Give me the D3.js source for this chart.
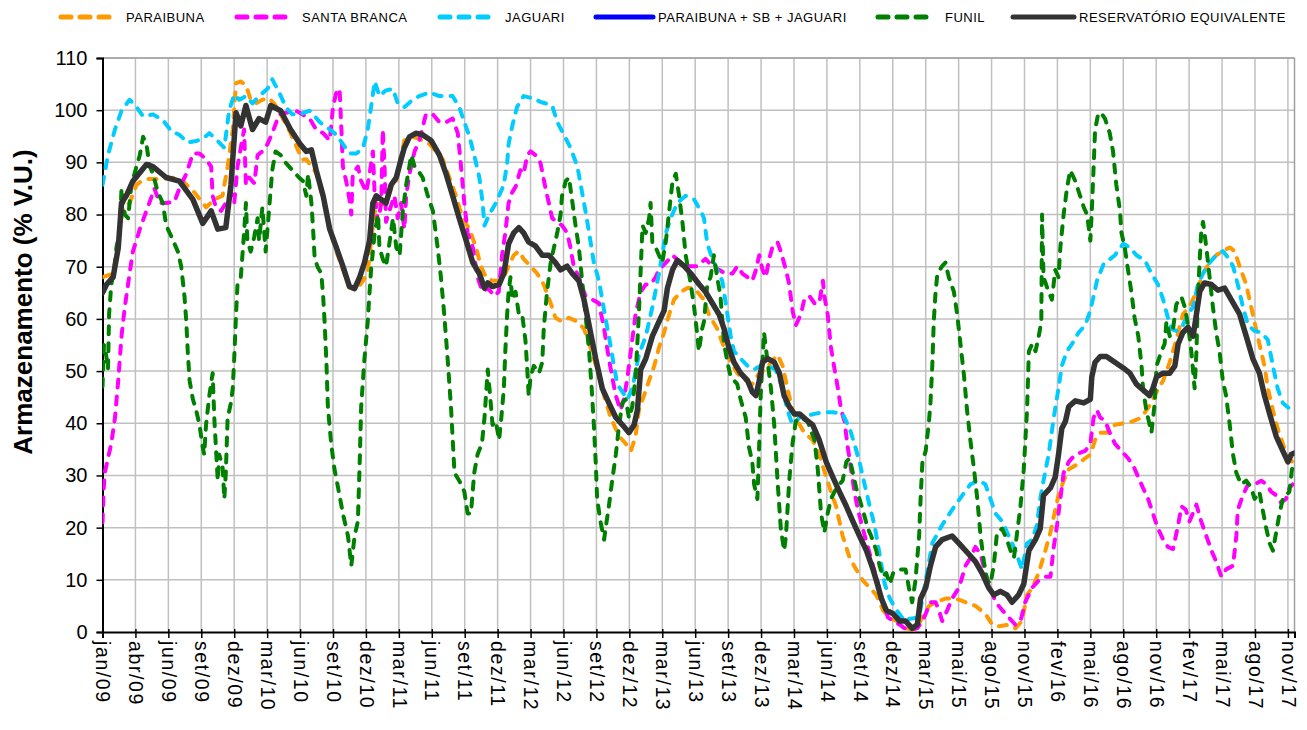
<!DOCTYPE html>
<html><head><meta charset="utf-8">
<script src="https://cdn.jsdelivr.net/npm/d3@7"></script>
<style>
html,body{margin:0;padding:0;background:#fff;}
svg text{font-family:"Liberation Sans",Arial,sans-serif;}
</style></head>
<body><svg id="c" width="1307" height="730"></svg>
<script>
// ---- DATA (x = day index from 01/jan/2009, y = % V.U.) ----
const xTickLabels = ["jan/09","abr/09","jun/09","set/09","dez/09","mar/10","jun/10","set/10","dez/10","mar/11","jun/11","set/11","dez/11","mar/12","jun/12","set/12","dez/12","mar/13","jun/13","set/13","dez/13","mar/14","jun/14","set/14","dez/14","mar/15","mai/15","ago/15","nov/15","fev/16","mai/16","ago/16","nov/16","fev/17","mai/17","ago/17","nov/17"];
const xTickDays = [0,90,180,270,360,450,540,630,720,810,900,990,1080,1170,1260,1350,1440,1530,1620,1710,1800,1890,1980,2070,2160,2250,2340,2430,2520,2610,2700,2790,2880,2970,3060,3150,3240];
const xLastDay = 3258;
const yTicks = [0,10,20,30,40,50,60,70,80,90,100,110];

const paraibuna = [[0,68],[29,68.7],[43,75],[56,81.4],[74,82.2],[93,85.7],[106,86.4],[124,86.8],[156,86.8],[201,87.1],[219,86.4],[247,84.6],[274,82.2],[283,81.4],[306,82.9],[328,83.6],[342,89.2],[356,96.3],[365,105.2],[378,105.5],[392,104.8],[405,102],[419,101.3],[437,102],[455,102.3],[469,101.3],[487,99.2],[514,95.6],[546,90.5],[557,90.6],[584,88],[603,83],[621,77],[639,73],[657,69.5],[675,66],[694,65.6],[712,67.3],[725,69],[739,78],[748,82],[762,82],[775,82],[789,85],[803,86.5],[825,94.2],[848,94.9],[866,94.5],[894,93.5],[930,90.6],[966,83.6],[984,79.3],[1003,77.2],[1021,73.7],[1034,70.1],[1048,68],[1066,67.3],[1084,67.3],[1097,68],[1110,70.1],[1124,72.2],[1138,73],[1151,71.5],[1170,70.1],[1188,68.7],[1206,66.6],[1225,63],[1238,60.2],[1256,59.5],[1275,60.2],[1298,59.5],[1316,58.1],[1334,54.5],[1352,50.3],[1371,45.3],[1389,41.1],[1412,37.5],[1430,36.1],[1444,34.7],[1457,37.5],[1466,42.5],[1480,45.3],[1494,48.2],[1508,51],[1521,54.5],[1535,57.4],[1549,60.9],[1562,63.7],[1581,65.2],[1599,65.9],[1617,65.9],[1635,64.4],[1644,63.7],[1657,60.9],[1680,58.1],[1699,54.5],[1717,51.7],[1735,49.6],[1758,48.2],[1776,47.5],[1795,49.6],[1813,50.3],[1827,51.7],[1845,53.1],[1859,51],[1872,46.7],[1886,42.5],[1900,40.4],[1918,38.2],[1941,36.8],[1959,34],[1978,29.7],[1991,26.9],[2005,24.1],[2023,18.4],[2042,14.2],[2060,12],[2078,9.9],[2097,8.5],[2115,7.1],[2133,4.2],[2152,2.8],[2170,2.1],[2193,1.1],[2195,0.7],[2222,0.4],[2241,2.8],[2259,5],[2277,5.7],[2304,6.4],[2332,6.4],[2359,5.7],[2386,5],[2413,3.5],[2432,1.4],[2450,1.1],[2477,1.4],[2495,0.7],[2513,2.1],[2527,7.1],[2541,8.5],[2559,11.3],[2568,13.5],[2577,15.6],[2591,19.1],[2604,23.4],[2613,26.2],[2627,29],[2641,31.2],[2659,31.9],[2686,33.3],[2700,34],[2713,36.8],[2727,38.2],[2744,38.2],[2767,39.7],[2790,40],[2817,40.4],[2840,41.1],[2853,42.5],[2867,43.9],[2881,46],[2899,48.2],[2917,51.7],[2935,56],[2953,60.9],[2971,62.3],[2990,65.2],[3008,68.7],[3026,70.8],[3044,72.2],[3062,73],[3081,73.7],[3094,73],[3108,70.1],[3126,66.6],[3144,60.9],[3162,55.2],[3176,51],[3185,46.7],[3199,42.5],[3212,39],[3226,36.1],[3240,33.3],[3253,32.6]];

const santaBranca = [[0,21],[3,27],[6,30.5],[24,36.1],[34,41],[43,48.2],[52,56.7],[61,62.3],[74,68.7],[83,72.9],[102,77.2],[120,80.7],[133,83.2],[142,85],[156,82.2],[174,82.2],[197,82.5],[210,85],[229,87.8],[247,91.7],[265,91.7],[283,90.6],[297,89.2],[301,83.6],[310,81.4],[324,80.7],[337,82.2],[351,84.3],[360,82.2],[369,89.2],[378,92.8],[387,96.3],[392,85.7],[401,87.1],[415,86],[424,91.4],[437,92.1],[451,93.5],[464,95.6],[483,99.2],[501,99.5],[528,99.9],[539,99.5],[566,98.4],[584,96.3],[603,95.6],[621,94.2],[630,100.6],[639,103.4],[648,104.1],[653,96.3],[657,89.2],[666,86.4],[675,82.9],[680,80],[684,87.8],[698,89.2],[707,86.4],[721,84.3],[730,87.8],[739,92.1],[744,83.6],[753,78.6],[762,82.2],[766,96.3],[771,89.2],[775,78.6],[784,80.7],[798,83.6],[807,79.3],[816,82.2],[825,77.2],[830,83.6],[839,87.8],[853,92.1],[866,94.2],[884,99.2],[903,99.2],[921,97.7],[939,97.7],[957,98.4],[971,95.6],[980,89.2],[989,82.2],[998,76.5],[1012,73.7],[1025,68],[1039,65.2],[1053,65.9],[1071,64.4],[1083,65.2],[1092,72.2],[1101,76.5],[1110,82.2],[1120,84.3],[1129,85.3],[1142,88.5],[1151,87.8],[1161,91.4],[1170,92.1],[1183,91.4],[1197,89.9],[1211,85],[1220,82.2],[1229,79.3],[1243,78.6],[1256,77.9],[1270,76.5],[1279,73.7],[1288,70.1],[1302,68],[1320,64.4],[1339,63.7],[1357,63],[1371,58.1],[1384,52.4],[1393,48.9],[1403,45.3],[1416,42.5],[1425,44.6],[1435,48.9],[1444,53.8],[1457,60.9],[1471,65.2],[1485,66.6],[1498,66.6],[1512,68],[1521,69.4],[1540,70.8],[1558,72.2],[1581,70.8],[1603,70.1],[1626,70.1],[1648,71.5],[1667,70.1],[1685,69.4],[1703,68.7],[1722,68.7],[1735,70.1],[1749,68.7],[1763,68],[1776,67.3],[1786,69.4],[1795,72.2],[1804,69.4],[1813,68],[1822,71.5],[1831,73.7],[1845,74.7],[1854,72.9],[1868,69.4],[1877,66.6],[1886,61.6],[1895,58.8],[1909,60.9],[1918,63.7],[1932,64.4],[1946,63],[1959,63],[1969,67.3],[1973,64.4],[1982,60.9],[1991,54.5],[2001,50.3],[2010,46.7],[2019,42.5],[2028,40.4],[2037,35.4],[2046,31.2],[2055,26.9],[2065,23.4],[2078,19.8],[2092,16.3],[2106,12.7],[2120,9.2],[2133,5.7],[2147,2.8],[2161,2.1],[2179,1.4],[2193,0.7],[2204,0.4],[2227,0.7],[2241,2.1],[2250,3.5],[2263,5.7],[2277,5.7],[2286,4.2],[2295,2.1],[2309,4.2],[2322,6.4],[2341,8.5],[2359,12.7],[2372,14.2],[2386,16.3],[2400,14.9],[2413,11.3],[2427,8.5],[2441,5.7],[2459,4.2],[2477,2.8],[2495,1.4],[2509,2.1],[2522,5.7],[2541,8.5],[2559,9.9],[2577,10.6],[2591,10.6],[2600,16.3],[2609,20.5],[2618,25.5],[2627,30.5],[2641,32.6],[2659,34],[2686,34.7],[2700,36.1],[2709,41.1],[2718,42.5],[2727,41.1],[2740,40.5],[2753,38.2],[2767,36.1],[2785,34.7],[2803,33.3],[2817,31.9],[2831,29.7],[2844,27.6],[2858,25.5],[2871,22.7],[2885,19.8],[2899,17.7],[2912,16.3],[2926,15.9],[2940,20.5],[2949,24.1],[2961,23.4],[2971,21.2],[2990,24.4],[3003,21.2],[3017,18.4],[3031,15.6],[3044,13.5],[3058,10.6],[3071,12],[3090,12.7],[3099,18.4],[3103,23.4],[3117,26.2],[3131,28.3],[3149,28.3],[3167,29],[3181,28.3],[3194,26.9],[3208,26.2],[3221,24.8],[3235,25.5],[3244,27.6],[3253,28.3]];

const jaguari = [[0,85.7],[15,91.4],[34,96.3],[52,99.9],[74,102],[93,100.6],[111,98.8],[138,99.2],[165,98.1],[188,96],[210,95.3],[233,93.8],[256,94.1],[274,94.5],[292,95.6],[315,94.1],[333,92.8],[346,99.9],[360,103],[374,102],[392,102.7],[410,101.3],[428,102.7],[451,104.1],[464,105.9],[483,103.4],[501,100.6],[519,99.2],[539,99.2],[566,99.9],[594,97.7],[621,96.3],[639,95.3],[657,93.5],[675,91.7],[694,91.7],[712,92.8],[725,96.3],[734,100.6],[744,105.5],[757,102.7],[775,103.8],[794,104.1],[807,101.3],[825,100.6],[848,102],[866,102.7],[894,103.4],[921,102.7],[957,102.7],[975,100.6],[989,97.7],[1003,94.9],[1016,91.4],[1030,87.1],[1039,82.2],[1044,77.9],[1057,80],[1075,82.2],[1097,85.7],[1106,89.9],[1110,93.5],[1120,97],[1133,100.6],[1151,102.7],[1174,102.3],[1197,101.6],[1229,100.9],[1243,97.7],[1261,95.3],[1279,92.8],[1298,89.2],[1307,85.7],[1320,80.7],[1330,76.5],[1343,70.8],[1357,67.3],[1371,61.6],[1384,56.7],[1398,51],[1407,47.5],[1421,46],[1435,44.6],[1448,46.7],[1466,53.1],[1485,56.7],[1503,62.3],[1521,68.7],[1540,76.5],[1553,79.3],[1571,82.2],[1594,83.6],[1617,82.9],[1635,80.7],[1644,79.3],[1653,74.4],[1667,71.5],[1680,69.4],[1694,67.3],[1708,60.9],[1717,56.7],[1726,53.8],[1744,52.4],[1763,51],[1781,50.3],[1799,51],[1818,51],[1840,50.3],[1859,46.7],[1872,42.5],[1886,39.7],[1905,41.1],[1923,41.4],[1946,41.8],[1969,42.1],[1996,42.1],[2023,41.8],[2042,39],[2055,36.1],[2069,32.6],[2083,28.3],[2097,24.1],[2110,20.5],[2124,14.9],[2138,9.2],[2152,6.4],[2170,4.2],[2193,2.1],[2204,2.5],[2232,2.8],[2250,9.9],[2268,17],[2295,20.5],[2322,23.4],[2350,26.2],[2372,28.3],[2395,29],[2413,28.3],[2427,25.5],[2441,22.7],[2459,21.2],[2477,18.4],[2495,15.6],[2513,12],[2527,17],[2541,17.7],[2554,20.5],[2563,25.5],[2572,29],[2586,34],[2600,41.1],[2613,46.7],[2622,51],[2636,53.8],[2650,55.2],[2668,57.4],[2686,58.8],[2700,61.6],[2709,64.4],[2718,67.3],[2736,70.5],[2767,72.2],[2790,74.4],[2808,73.7],[2826,72.2],[2849,71.2],[2867,68.7],[2885,66.6],[2899,63.7],[2912,60.2],[2921,58.1],[2935,57.7],[2953,58.8],[2967,60.9],[2981,62.3],[2994,66.6],[3008,68.7],[3026,70.8],[3044,72.2],[3062,73],[3076,71.8],[3090,70.1],[3103,66.6],[3117,62.3],[3131,58.8],[3149,57.7],[3167,57.4],[3185,56],[3199,51],[3212,46.7],[3226,43.9],[3244,42.8],[3258,42.8]];

const funil = [[0,47],[4,55],[10,53],[15,50.3],[18,60.9],[24,66.6],[34,70.1],[38,73.7],[47,76.5],[52,85],[61,80],[70,79.3],[79,85.7],[93,89.2],[102,91.4],[111,94.9],[120,93.5],[129,89.2],[138,87.8],[151,84.3],[165,82.2],[174,77.9],[188,75.8],[206,72.9],[215,70.1],[224,64.4],[229,59.5],[233,53.8],[238,48.2],[247,44.6],[256,42.5],[265,39.7],[274,35.4],[278,34],[283,39.7],[292,45.3],[301,49.6],[306,40.4],[310,35.4],[315,29],[319,34],[328,31.9],[333,25.5],[337,30.5],[342,41],[351,43.9],[356,46.7],[360,52.4],[365,60.9],[369,66.6],[378,68],[387,76.5],[392,82.2],[396,75],[405,72.9],[415,75.8],[424,79.3],[428,75],[437,81.4],[446,72.9],[455,80.7],[464,88.5],[473,92.1],[487,91.4],[501,89.9],[519,88.5],[537,87.1],[548,86.4],[557,83.6],[562,87.8],[571,82.2],[575,77.9],[580,71.5],[589,69.8],[598,68.7],[603,64.4],[607,59.5],[612,51.7],[616,43.2],[625,36.1],[634,31.2],[644,27.6],[657,22.7],[671,18.4],[680,12.7],[689,18.4],[698,21.2],[703,32.6],[707,43.2],[716,52.4],[725,59.5],[730,65.2],[734,69.4],[744,76.5],[753,80],[757,73.7],[766,71.5],[775,70.1],[784,74.4],[794,79.3],[803,73.7],[812,72.2],[821,80.7],[830,85.7],[844,91.4],[853,89.2],[862,88.5],[875,87.1],[889,83.6],[903,80.7],[916,73.7],[925,68],[934,60.9],[944,51.7],[953,42.5],[962,30.5],[975,29],[989,26.9],[998,22.7],[1007,22.7],[1016,30.5],[1025,34],[1037,36.1],[1044,41],[1053,50.3],[1062,43.2],[1066,39.7],[1075,40.4],[1084,36.8],[1090,41],[1097,46.7],[1101,53.8],[1106,60.9],[1110,65.2],[1115,68],[1120,63.7],[1129,65.2],[1138,60.9],[1147,60.9],[1156,55.9],[1161,50.3],[1165,45.3],[1170,48.9],[1179,51],[1193,49.6],[1202,51.7],[1206,58.1],[1215,65.2],[1225,70.8],[1234,73.7],[1243,76.5],[1252,80],[1256,83.6],[1266,86.4],[1275,87.1],[1284,82.5],[1293,77.9],[1302,73.7],[1311,67.3],[1320,60.9],[1330,53.8],[1337,46.7],[1343,39.7],[1348,32.6],[1352,25.5],[1361,21.2],[1371,17.7],[1375,19.8],[1384,24.1],[1393,29],[1403,34],[1412,39.7],[1421,43.9],[1430,44.6],[1439,41],[1448,43.2],[1457,48.9],[1466,60.9],[1471,69.4],[1476,77.9],[1485,76.5],[1494,79.3],[1498,82.2],[1503,74.4],[1512,73.7],[1521,72.2],[1530,70.8],[1540,75],[1549,80.7],[1558,86.4],[1567,87.8],[1576,83.6],[1585,78.6],[1594,72.2],[1608,66.6],[1617,62.3],[1626,56.7],[1630,53.8],[1639,58.1],[1644,59.5],[1653,66.6],[1662,68],[1671,72.2],[1680,68],[1689,64.4],[1699,55.2],[1708,51.7],[1717,48.9],[1726,48.2],[1735,47.5],[1744,44.6],[1758,41.1],[1767,35.4],[1776,32.6],[1781,28.3],[1790,25.5],[1795,36.1],[1799,45.3],[1808,57.4],[1818,51.7],[1827,46.7],[1836,39.7],[1845,29],[1854,19.8],[1863,15.6],[1868,18.4],[1877,29],[1886,36.1],[1895,40.4],[1909,41.1],[1927,40.4],[1946,36.8],[1955,31.2],[1964,22.7],[1973,19.1],[1982,22.7],[1991,25.5],[2001,26.9],[2014,28.3],[2023,29],[2033,32.6],[2042,33.3],[2051,30.5],[2060,27.6],[2069,25.5],[2078,23.4],[2092,19.8],[2101,18.4],[2115,15.6],[2124,12.7],[2133,10.6],[2142,11.3],[2152,9.2],[2161,11.3],[2179,12],[2195,12],[2204,8.5],[2213,5.7],[2222,9.9],[2232,18.4],[2236,25.5],[2241,32.6],[2250,34.7],[2259,40.4],[2263,43.9],[2268,51],[2272,59.5],[2277,65.2],[2282,68.7],[2295,70.1],[2304,70.8],[2313,68],[2327,65.2],[2336,60.9],[2345,55.2],[2354,49.6],[2363,42.5],[2372,36.8],[2382,31.2],[2391,25.5],[2400,18.4],[2409,13.5],[2418,9.9],[2427,9.2],[2436,12.7],[2445,19.1],[2459,19.8],[2472,17.7],[2482,15.6],[2491,14.2],[2500,19.1],[2509,24.1],[2518,31.2],[2527,42.5],[2532,53.8],[2541,55.2],[2550,53.8],[2559,56.7],[2566,59.5],[2568,80],[2572,68],[2586,65.2],[2595,63.7],[2604,69.4],[2613,68],[2618,73.7],[2627,80],[2636,85],[2645,88.5],[2659,86.4],[2672,83.6],[2682,81.4],[2691,80],[2700,75],[2704,80.7],[2709,89.2],[2713,96.3],[2722,99.5],[2732,99.2],[2740,98.4],[2753,95.6],[2762,92.1],[2771,85.7],[2781,80.7],[2785,76.5],[2794,73.7],[2803,69.4],[2812,65.2],[2821,60.2],[2831,56.7],[2840,51],[2844,46.7],[2853,42.5],[2862,39.7],[2867,38.2],[2876,43.9],[2881,51],[2894,53.8],[2903,55.2],[2908,59.5],[2917,56.7],[2926,58.1],[2935,62.8],[2949,64.2],[2958,62.3],[2967,58.8],[2976,53.8],[2985,46.7],[2990,53.8],[2994,64.2],[2999,71.5],[3003,76.5],[3008,78.6],[3017,73.7],[3026,68],[3035,62.3],[3044,57.4],[3053,53.8],[3062,48.2],[3071,45.3],[3081,39.7],[3090,34],[3099,30.5],[3112,28.3],[3126,29],[3140,27.6],[3149,25.5],[3162,26.9],[3171,23.4],[3181,19.8],[3190,17],[3199,15.6],[3208,19.1],[3217,22.7],[3226,25.5],[3235,26.2],[3244,26.9],[3251,31.2],[3258,31.9]];

const equivalente = [[0,65],[11,66.6],[29,68],[43,73.6],[52,82.2],[65,83.6],[83,86.4],[120,89.6],[138,89.2],[174,87.1],[210,86.4],[247,82.9],[274,78.3],[297,80.7],[315,77.2],[337,77.5],[351,85.7],[365,99.5],[378,97],[392,100.9],[410,96.3],[428,98.4],[446,97.7],[460,100.9],[487,99.9],[514,96.3],[540,93.5],[557,92.1],[571,92.4],[584,88.5],[603,83.6],[621,77.2],[639,73.7],[657,70.1],[675,66.2],[689,65.8],[703,68],[716,70.8],[730,75],[739,82.2],[748,83.6],[762,82.9],[775,82.2],[789,85.7],[803,87.1],[816,90.6],[825,92.8],[839,94.9],[857,95.6],[875,95.3],[898,94.2],[921,91.4],[939,87.8],[957,83.6],[975,79.3],[994,75],[1012,70.8],[1030,68.7],[1044,65.9],[1053,66.9],[1066,66.2],[1084,66.6],[1097,68.7],[1110,74.4],[1124,76.5],[1138,77.5],[1151,76.5],[1165,74.7],[1183,74],[1202,72.2],[1220,72.2],[1238,70.8],[1252,69.4],[1270,70.1],[1284,68.7],[1302,67.3],[1316,63.7],[1330,58.8],[1348,52.4],[1366,46.7],[1384,43.9],[1403,41.1],[1421,39.7],[1439,38.2],[1453,39.7],[1462,42.5],[1471,50.3],[1485,52.4],[1503,56.7],[1521,59.5],[1535,61.6],[1544,65.9],[1558,69.4],[1571,71.2],[1590,70.1],[1608,68.7],[1631,66.6],[1648,65.2],[1667,63],[1685,60.9],[1699,58.1],[1712,54.5],[1726,51.7],[1744,49.6],[1763,48.2],[1776,46],[1786,45.3],[1795,48.2],[1804,51.7],[1818,52.4],[1836,51.7],[1850,49.6],[1863,45.3],[1877,43.2],[1891,41.8],[1905,41.8],[1923,40.7],[1941,39.7],[1959,36.8],[1978,32.6],[1996,29.7],[2014,26.9],[2033,24.1],[2051,21.2],[2069,18.4],[2088,15.6],[2106,12],[2115,9.9],[2129,6.4],[2142,4.2],[2161,3.5],[2179,2.1],[2195,2.1],[2213,0.7],[2227,1.4],[2236,6.4],[2250,8.5],[2263,12.7],[2277,16.3],[2295,17.7],[2322,18.4],[2341,17],[2368,14.9],[2386,13.5],[2404,11.3],[2422,8.5],[2436,7.1],[2454,7.8],[2472,7.1],[2486,5.7],[2504,7.1],[2518,9.2],[2532,15.6],[2550,17.7],[2563,19.8],[2572,26.2],[2591,27.6],[2604,29.7],[2613,34],[2622,39],[2632,40.4],[2641,43.2],[2659,44.3],[2682,43.9],[2700,44.6],[2704,48.9],[2713,51.7],[2727,52.8],[2744,52.8],[2767,51.7],[2790,50.6],[2808,49.6],[2826,47.5],[2844,46.4],[2862,45.3],[2871,46.7],[2881,48.9],[2899,49.6],[2917,49.6],[2931,51],[2940,55.2],[2953,57.4],[2967,58.4],[2981,56.7],[2990,60.9],[2999,65.2],[3012,66.9],[3031,66.6],[3049,65.5],[3067,65.9],[3085,63.7],[3108,60.9],[3126,56.7],[3144,52.4],[3162,49.6],[3176,45.3],[3190,41.8],[3208,37.5],[3226,34.7],[3240,32.6],[3249,34],[3258,34.3]];

const seriesNames = ["PARAIBUNA","SANTA BRANCA","JAGUARI","PARAIBUNA + SB + JAGUARI","FUNIL","RESERVATÓRIO EQUIVALENTE"];

// ---- CHART ----
const svg = d3.select("#c");
const L = 102.5, R = 1294.5, T = 58, B = 632;
const x = d3.scaleLinear().domain([0, xLastDay]).range([L, R]);
const y = d3.scaleLinear().domain([0, 110]).range([B, T]);

// gridlines
const grid = svg.append("g");
grid.selectAll("line.h").data(yTicks.filter(v => v > 0)).join("line")
  .attr("x1", L).attr("x2", R).attr("y1", d => y(d)).attr("y2", d => y(d))
  .attr("stroke", "#c0c0c0").attr("stroke-width", 1.5);
grid.selectAll("line.v").data(xTickDays.slice(1)).join("line")
  .attr("x1", d => x(d)).attr("x2", d => x(d)).attr("y1", T).attr("y2", B)
  .attr("stroke", "#c0c0c0").attr("stroke-width", 1.5);
svg.append("line").attr("x1", L).attr("x2", R).attr("y1", T).attr("y2", T).attr("stroke", "#a0a0a0").attr("stroke-width", 1.5);
svg.append("line").attr("x1", R).attr("x2", R).attr("y1", T).attr("y2", B).attr("stroke", "#a0a0a0").attr("stroke-width", 1.5);

// axes
const yAxis = d3.axisLeft(y).tickValues(yTicks).tickSize(6).tickPadding(9).tickFormat(d3.format("d"));
const gy = svg.append("g").attr("transform", `translate(${L},0)`).call(yAxis);
gy.select(".domain").attr("stroke", "#000").attr("stroke-width", 2);
gy.selectAll(".tick line").attr("stroke", "#000").attr("stroke-width", 1.5);
gy.selectAll(".tick text").attr("font-size", 20).attr("fill", "#000").attr("font-family", "Liberation Sans, Arial, sans-serif");

const xAxis = d3.axisBottom(x).tickValues(xTickDays).tickSize(6).tickFormat((d, i) => xTickLabels[i]);
const gx = svg.append("g").attr("transform", `translate(0,${B})`).call(xAxis);
gx.select(".domain").attr("stroke", "#000").attr("stroke-width", 2);
gx.selectAll(".tick line").attr("stroke", "#000").attr("stroke-width", 1.5).attr("y1", -3);
gx.selectAll(".tick text")
  .attr("font-size", 19.5).attr("fill", "#000").attr("letter-spacing", "1.6px")
  .attr("font-family", "Liberation Sans, Arial, sans-serif")
  .attr("text-anchor", "start")
  .attr("transform", "rotate(90)")
  .attr("x", 9).attr("y", 0).attr("dy", "0.35em");

// y title
svg.append("text").attr("transform", "translate(32,302) rotate(-90)")
  .attr("text-anchor", "middle").attr("font-size", 26).attr("font-weight", "bold")
  .attr("fill", "#000").text("Armazenamento (% V.U.)");

// lines
const clip = svg.append("clipPath").attr("id", "pc").append("rect")
  .attr("x", L).attr("y", T - 2).attr("width", R - L).attr("height", B - T + 4);
const line = d3.line().x(d => x(d[0])).y(d => y(d[1]));
const plot = svg.append("g").attr("clip-path", "url(#pc)");
const styles = [
  {data: paraibuna, color: "#FF9900", w: 4, dash: "8,9"},
  {data: santaBranca, color: "#FF00FF", w: 4, dash: "8,9"},
  {data: jaguari, color: "#00CCFF", w: 4, dash: "8,9"},
  {data: null, color: "#0000FF", w: 4.5, dash: null},
  {data: funil, color: "#008000", w: 4, dash: "8,9"},
  {data: equivalente, color: "#333333", w: 5.5, dash: null}
];
styles.forEach(s => {
  if (!s.data) return;
  plot.append("path").datum(s.data).attr("d", line)
    .attr("fill", "none").attr("stroke", s.color).attr("stroke-width", s.w)
    .attr("stroke-linecap", "round").attr("stroke-linejoin", "round")
    .attr("stroke-dasharray", s.dash);
});

// legend
const legPos = [[61,114,126],[237,290,302],[440,495,505],[596,653,658],[878,932,945],[1013,1074,1079]];
const leg = svg.append("g");
styles.forEach((s, i) => {
  const p = legPos[i];
  leg.append("line").attr("x1", p[0]).attr("x2", p[1]).attr("y1", 17).attr("y2", 17)
    .attr("stroke", s.color).attr("stroke-width", 5)
    .attr("stroke-linecap", "round").attr("stroke-dasharray", s.dash ? "10,9" : null);
  leg.append("text").attr("x", p[2]).attr("y", 17).attr("dy", "0.35em")
    .attr("font-size", 13).attr("letter-spacing", "0.5px").attr("fill", "#000").text(seriesNames[i]);
});
</script></body></html>
